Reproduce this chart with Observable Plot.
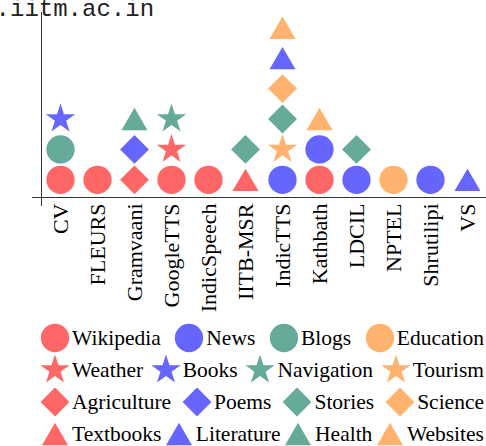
<!DOCTYPE html>
<html><head><meta charset="utf-8">
<script src="https://cdn.jsdelivr.net/npm/d3@7"></script>
<script src="https://cdn.jsdelivr.net/npm/@observablehq/plot@0.6"></script>
<style>
body{margin:0;background:#fff;position:relative;width:486px;height:446px;overflow:hidden}
#url{position:absolute;left:-4.4px;top:-2px;font:24px/24px "Liberation Mono",monospace;color:#222;white-space:pre}
#legend{margin-left:41px;width:443px}
#legend .lg-swatches{font-family:"Liberation Serif",serif;font-size:21.5px;margin:0;color:#000}
#legend .lg-swatches-wrap{justify-content:space-between;min-height:0}
#legend .lg-swatches-wrap .lg-swatch{margin-right:0;height:32px}
#legend .lg-swatch>svg{margin-right:3px}
</style></head><body>
<div id="chart"></div><div id="legend"></div><div id="url">.iitm.ac.in</div>
<script>
// Datasets (x categories)
const datasets = ["CV", "FLEURS", "Gramvaani", "GoogleTTS", "IndicSpeech", "IITB-MSR",
  "IndicTTS", "Kathbath", "LDCIL", "NPTEL", "Shrutilipi", "VS"];
// Domains (legend order)
const domainLabels = ["Wikipedia", "News", "Blogs", "Education",
  "Weather", "Books", "Navigation", "Tourism",
  "Agriculture", "Poems", "Stories", "Science",
  "Textbooks", "Literature", "Health", "Websites"];
// Domains covered by each dataset, bottom to top
const datasetDomains = [
  ["Wikipedia", "Blogs", "Books"],
  ["Wikipedia"],
  ["Agriculture", "Poems", "Health"],
  ["Wikipedia", "Weather", "Navigation"],
  ["Wikipedia"],
  ["Textbooks", "Stories"],
  ["News", "Tourism", "Stories", "Science", "Literature", "Websites"],
  ["Wikipedia", "News", "Websites"],
  ["News", "Stories"],
  ["Education"],
  ["News"],
  ["Literature"]
];

const palette4 = ["#ff6666", "#6666ff", "#66aa99", "#ffb36e"];

const circle = {draw(c, s) { const r = Math.sqrt(s / Math.PI); c.moveTo(r, 0); c.arc(0, 0, r, 0, 2 * Math.PI); c.closePath(); }};
const star = {draw(c, s) {
  const r = Math.sqrt(s / Math.PI), R = 1.09 * r, ri = R * 0.382;
  for (let k = 0; k < 10; k++) {
    const a = -Math.PI / 2 + k * Math.PI / 5, rr = k % 2 ? ri : R;
    const px = rr * Math.cos(a), py = rr * Math.sin(a);
    k ? c.lineTo(px, py) : c.moveTo(px, py);
  }
  c.closePath();
}};
const diamond = {draw(c, s) { const d = 1.02 * Math.sqrt(s / Math.PI); c.moveTo(0, -d); c.lineTo(d, 0); c.lineTo(0, d); c.lineTo(-d, 0); c.closePath(); }};
const triangle = {draw(c, s) { const r = Math.sqrt(s / Math.PI), w = 0.92 * r, h = 0.79 * r; c.moveTo(0, -h); c.lineTo(w, h); c.lineTo(-w, h); c.closePath(); }};
const shapes4 = [circle, star, diamond, triangle];

const rows = datasets.flatMap((d, i) => datasetDomains[i].map((label, j) => ({dataset: d, label, level: j + 1})));

const plot = Plot.plot({
  width: 486, height: 322,
  marginTop: 12, marginLeft: 41, marginRight: 0, marginBottom: 125,
  x: {type: "point", domain: datasets, padding: 0.5},
  y: {domain: [0.42, 6.5], axis: null},
  color: {domain: domainLabels, range: domainLabels.map((_, i) => palette4[i % 4])},
  symbol: {domain: domainLabels, range: domainLabels.map((_, i) => shapes4[Math.floor(i / 4)])},
  marks: [
    Plot.dot(rows, {x: "dataset", y: "level", symbol: "label", fill: "label", r: 14.15}),
    Plot.frame({anchor: "left", insetBottom: -8, stroke: "#333"}),
    Plot.frame({anchor: "bottom", insetLeft: -9, stroke: "#333"}),
    Plot.axisX({tickSize: 0, tickPadding: 6, tickRotate: -90, textAnchor: "end", lineAnchor: "middle",
      fontSize: 22, fontFamily: "Liberation Serif", fill: "#000", label: null})
  ]
});
document.getElementById("chart").appendChild(plot);
document.getElementById("legend").appendChild(plot.legend("symbol", {className: "lg", swatchSize: 28, r: 14.15 / 1.75}));
</script></body></html>
